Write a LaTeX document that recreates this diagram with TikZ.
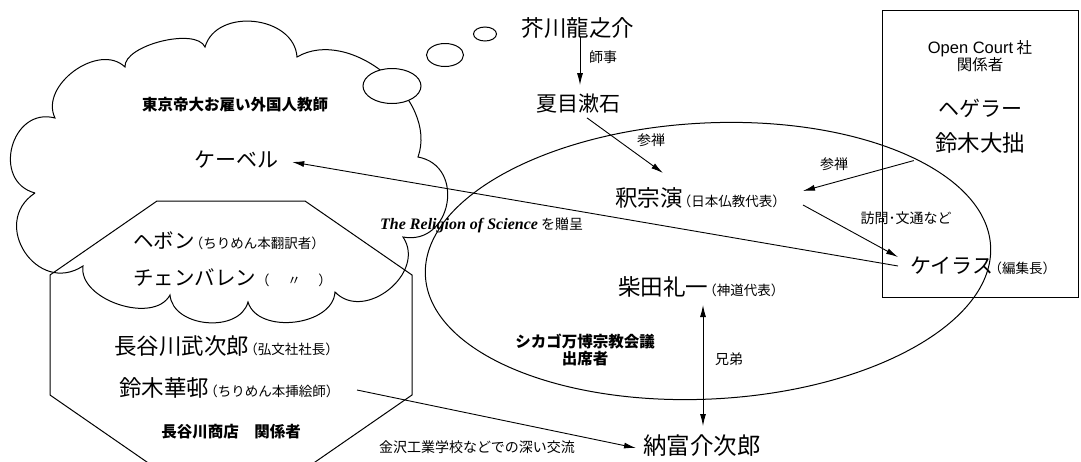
\documentclass[tikz,border=0pt]{standalone}
\usepackage{fontspec}
\setmainfont{Noto Sans CJK JP}
\newfontfamily\lserif{Liberation Serif}
\newfontfamily\lsans{Liberation Sans}
\usetikzlibrary{arrows.meta,calc}
\newcommand{\myfs}[2]{\fontsize{#1}{#2}\selectfont}
\newcommand{\jpparen}[1]{{\myfs{13.5}{15}\hspace{-0.35em}#1}}
\newcommand{\jpparenplain}[1]{{\myfs{13.5}{15}#1}}
\begin{document}
\begin{tikzpicture}[x=1pt,y=-1pt,
  outl/.style={line width=1pt},
  pname/.style={inner sep=0pt, font=\myfs{22.5}{24}},
  kname/.style={inner sep=0pt, font=\myfs{21}{23}},
  lbl/.style={inner sep=0pt, font=\myfs{14}{16}},
  grp/.style={inner sep=0pt, font=\myfs{15.5}{17}\bfseries, align=center},
  arr/.style={-{Latex[length=12pt,width=6pt]}, line width=0.9pt},
  darr/.style={{Latex[length=12pt,width=6pt]}-{Latex[length=12pt,width=6pt]}, line width=0.9pt}]
\useasboundingbox (0,0) rectangle (1081,461);
\fill[white] (0,0) rectangle (1081,461);
\clip (0,0) rectangle (1081,461);

% cloud
\draw[outl] (35,193) to[bend left=90,looseness=1.5] (55,118)
  to[bend left=80,looseness=1.07] (125,67)
  to[bend left=80,looseness=0.68] (205,47)
  to[bend left=80,looseness=1.15] (297,57)
  to[bend left=70,looseness=1.0] (418,157)
  to[bend left=90,looseness=1.55] (403,237)
  to[bend left=85,looseness=1.25] (335,292)
  to[bend left=80,looseness=1.0] (248,302)
  to[bend left=80,looseness=1.07] (170,295)
  to[bend left=80,looseness=0.95] (83,266)
  to[bend left=90,looseness=1.6] (35,193);
% thought bubbles
\draw[outl, fill=white] (392,86) ellipse [x radius=29, y radius=17.5];
\draw[outl, fill=white] (445,55) ellipse [x radius=18.5, y radius=11.5];
\draw[outl, fill=white] (485,34) ellipse [x radius=11.5, y radius=7];

% octagon
\draw[outl] (157,201) -- (305,201) -- (412,275) -- (412,395) -- (305,469)
  -- (157,469) -- (50,395) -- (50,275) -- cycle;

% big ellipse
\draw[outl, rotate around={3:(708,261)}] (708,261) ellipse [x radius=283, y radius=138];

% box
\draw[outl] (882,10) rectangle (1078,297);

% nodes
\node[pname] (akutagawa) at (578,28) {芥川龍之介};
\node[lbl] (shiji) at (603,57) {師事};
\node[kname] (natsume) at (578,104) {夏目漱石};
\node[lbl] (sanzenA) at (651,140) {参禅};
\node[pname, anchor=west] (shaku) at (615,198) {釈宗演\jpparen{（日本仏教代表）}};
\node[lbl] (sanzenB) at (834,164) {参禅};
\node[lbl] (homon) at (906,218) {訪問･文通など};
\node[kname, anchor=west] (carus) at (910,266) {ケイラス\jpparen{（編集長）}};
\node[kname] (hegeler) at (980,108) {ヘゲラー};
\node[pname] (suzukiD) at (980,143) {鈴木大拙};
\node[grp, font=\myfs{15.5}{17}] (opencourt) at (980,56) {{\lsans\myfs{16.5}{17}Open Court} 社\\関係者};
\node[grp] (tokyo) at (235,105) {東京帝大お雇い外国人教師};
\node[kname] (koeber) at (236,160) {ケーベル};
\node[inner sep=0pt, anchor=west, font=\myfs{14}{16}] (religion) at (380,225) {{\lserif\bfseries\itshape\myfs{16}{17}The Religion of Science} を贈呈};
\node[kname, anchor=west, font=\myfs{20.5}{22}] (hepburn) at (133,241) {ヘボン\jpparen{（ちりめん本翻訳者）}};
\node[kname, anchor=west, font=\myfs{20.5}{22}] (chamberlain) at (133,278) {チェンバレン\jpparenplain{（\hspace{1.3em}〃\hspace{1.3em}）}};
\node[pname, anchor=west] (hasegawaT) at (114,346) {長谷川武次郎\jpparen{（弘文社社長）}};
\node[pname, anchor=west] (suzukiK) at (119,388) {鈴木華邨\jpparen{（ちりめん本挿絵師）}};
\node[grp] (hasegawa) at (231,432) {長谷川商店　関係者};
\node[lbl] (kanazawa) at (477,447) {金沢工業学校などでの深い交流};
\node[pname, anchor=west, font=\myfs{23.5}{25}] (notomi) at (643,446) {納富介次郎};
\node[pname, anchor=west] (shibata) at (618,287) {柴田礼一\jpparen{（神道代表）}};
\node[lbl] (kyodai) at (729,359) {兄弟};
\node[grp] (chicago) at (585,350) {シカゴ万博宗教会議\\出席者};

% connectors
\draw[arr] ($(akutagawa.south)+(2,-2)$) -- ($(natsume.north)+(2,-9)$);
\draw[arr] ($(natsume.south)+(9,4)$) -- ($(shaku.west)+(48,-25)$);
\draw[arr] ($(suzukiD.south west)+(-21,7)$) -- ($(shaku.west)+(188,-7)$);
\draw[arr] ($(shaku.west)+(188,7)$) -- ($(carus.west)+(-12,-9)$);
\draw[arr] ($(carus.west)+(-12,0)$) -- ($(koeber.east)+(14,2)$);
\draw[arr] ($(suzukiK.west)+(238,2)$) -- ($(notomi.west)+(-7,2)$);
\draw[darr] ($(shibata.west)+(85,18)$) -- ($(notomi.west)+(60,-20)$);
\end{tikzpicture}
\end{document}
